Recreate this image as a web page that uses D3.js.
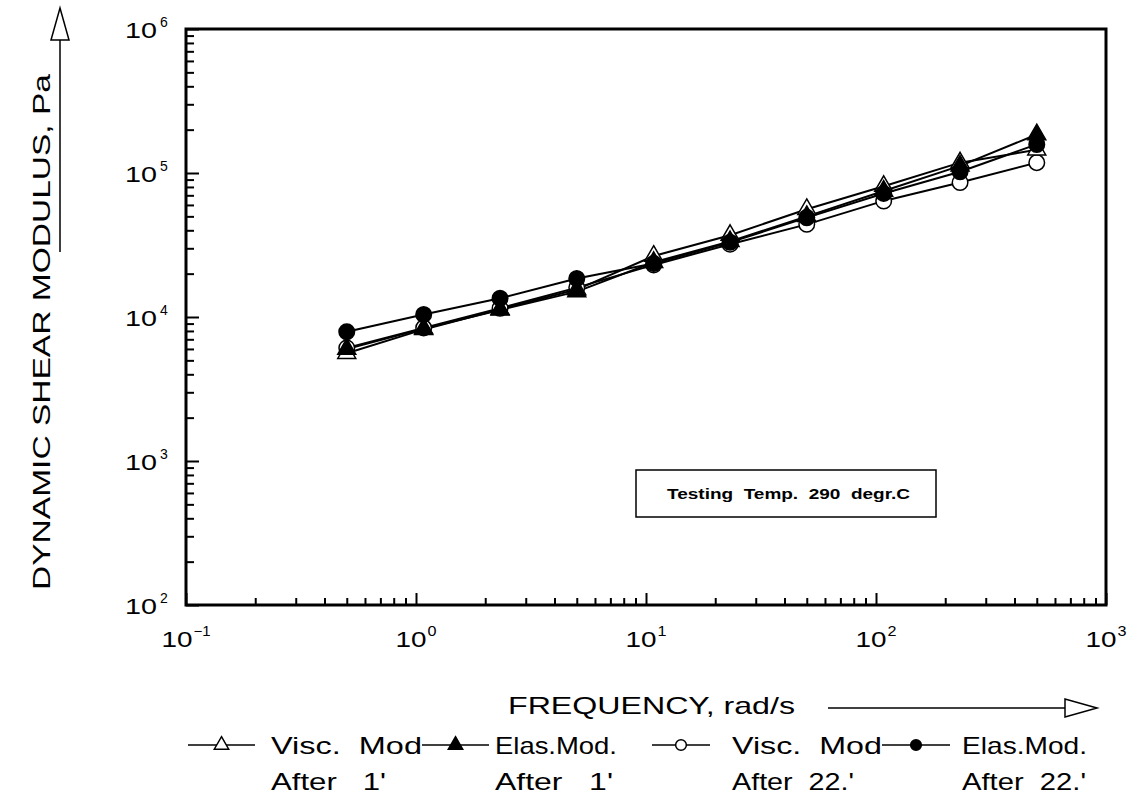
<!DOCTYPE html>
<html>
<head>
<meta charset="utf-8">
<script src="https://cdn.jsdelivr.net/npm/d3@7"></script>
<style>
  body { margin: 0; background: #fff; }
  text { font-family: "Liberation Sans", Arial, sans-serif; fill: #000; white-space: pre; }
</style>
</head>
<body>
<script>
// frequency, rad/s
const freq = [0.5, 1.08, 2.32, 5, 10.8, 23.2, 50, 108, 232, 500]
// modulus, Pa
const viscAfter1 = [5600, 8200, 11300, 15500, 26500, 37000, 56000, 81000, 118000, 145000]
const elasAfter1 = [6000, 8300, 11200, 15000, 24000, 33500, 50000, 75000, 112000, 185000]
const viscAfter22 = [6100, 8400, 11500, 16000, 23000, 32000, 44000, 64000, 86000, 118000]
const elasAfter22 = [7900, 10400, 13500, 18500, 23500, 33000, 49000, 72000, 102000, 158000]

const xDecades = [-1, 0, 1, 2, 3]
const yDecades = [2, 3, 4, 5, 6]

const legendItems = [
  { line1: "Visc.  Mod", line2: "After   1'", symbol: "triangle", filled: false },
  { line1: "Elas.Mod.", line2: "After   1'", symbol: "triangle", filled: true },
  { line1: "Visc.  Mod", line2: "After  22.'", symbol: "circle", filled: false },
  { line1: "Elas.Mod.", line2: "After  22.'", symbol: "circle", filled: true }
]

const dims = { w: 1143, h: 803, left: 186, right: 1106, top: 29, bottom: 605 }

const svg = d3.select("body").append("svg")
  .attr("width", dims.w)
  .attr("height", dims.h)

const x = d3.scaleLog().domain([0.1, 1000]).range([dims.left, dims.right])
const y = d3.scaleLog().domain([100, 1e6]).range([dims.bottom, dims.top])

// minor tick values 2..9 in each decade
const minorX = []
xDecades.slice(0, -1).forEach(d => { for (let k = 2; k < 10; k++) minorX.push(k * Math.pow(10, d)) })
const minorY = []
yDecades.slice(0, -1).forEach(d => { for (let k = 2; k < 10; k++) minorY.push(k * Math.pow(10, d)) })

// bottom axis ticks (pointing inward)
svg.append("g")
  .attr("transform", `translate(0, ${dims.bottom})`)
  .call(d3.axisBottom(x).tickValues(minorX).tickSize(-7).tickFormat(""))
  .call(g => g.select(".domain").remove())
svg.append("g")
  .attr("transform", `translate(0, ${dims.bottom})`)
  .call(d3.axisBottom(x).tickValues(xDecades.map(d => Math.pow(10, d))).tickSize(-12).tickFormat(""))
  .call(g => g.select(".domain").remove())

// left axis ticks
svg.append("g")
  .attr("transform", `translate(${dims.left}, 0)`)
  .call(d3.axisLeft(y).tickValues(minorY).tickSize(-8).tickFormat(""))
  .call(g => g.select(".domain").remove())
svg.append("g")
  .attr("transform", `translate(${dims.left}, 0)`)
  .call(d3.axisLeft(y).tickValues(yDecades.map(d => Math.pow(10, d))).tickSize(-13).tickFormat(""))
  .call(g => g.select(".domain").remove())

svg.selectAll(".tick line").attr("stroke", "#000").attr("stroke-width", 2)

// frame
svg.append("rect")
  .attr("x", dims.left).attr("y", dims.top)
  .attr("width", dims.right - dims.left).attr("height", dims.bottom - dims.top)
  .attr("fill", "none").attr("stroke", "#000").attr("stroke-width", 3)

// x tick labels
xDecades.forEach(d => {
  const cx = x(Math.pow(10, d))
  const expW = d < 0 ? 18 : 10
  const baseW = 31
  const total = baseW + expW
  const x0 = cx - total / 2
  svg.append("text")
    .attr("x", x0).attr("y", 647)
    .attr("font-size", 22)
    .attr("textLength", baseW).attr("lengthAdjust", "spacingAndGlyphs")
    .text("10")
  svg.append("text")
    .attr("x", x0 + baseW + 1).attr("y", 636)
    .attr("font-size", 14)
    .attr("textLength", expW - 1).attr("lengthAdjust", "spacingAndGlyphs")
    .text(d < 0 ? "\u2212" + Math.abs(d) : d)
})

// y tick labels
yDecades.forEach(d => {
  const cy = y(Math.pow(10, d))
  svg.append("text")
    .attr("x", 125).attr("y", cy + 9)
    .attr("font-size", 22)
    .attr("textLength", 32).attr("lengthAdjust", "spacingAndGlyphs")
    .text("10")
  svg.append("text")
    .attr("x", 160).attr("y", cy - 2)
    .attr("font-size", 14)
    .text(d)
})

// y axis title and arrow
svg.append("text")
  .attr("transform", "translate(50, 332) rotate(-90)")
  .attr("text-anchor", "middle")
  .attr("font-size", 23)
  .attr("textLength", 516).attr("lengthAdjust", "spacingAndGlyphs")
  .text("DYNAMIC SHEAR MODULUS, Pa")
svg.append("line")
  .attr("x1", 60).attr("x2", 60).attr("y1", 40).attr("y2", 252)
  .attr("stroke", "#000").attr("stroke-width", 1.5)
svg.append("path")
  .attr("d", "M60,8 L69,40 L51,40 Z")
  .attr("fill", "#fff").attr("stroke", "#000").attr("stroke-width", 1.5)

// x axis title and arrow
svg.append("text")
  .attr("x", 508).attr("y", 714)
  .attr("font-size", 24)
  .attr("textLength", 287).attr("lengthAdjust", "spacingAndGlyphs")
  .text("FREQUENCY, rad/s")
svg.append("line")
  .attr("x1", 828).attr("x2", 1065).attr("y1", 708).attr("y2", 708)
  .attr("stroke", "#000").attr("stroke-width", 1.5)
svg.append("path")
  .attr("d", "M1097,708 L1065,699 L1065,717 Z")
  .attr("fill", "#fff").attr("stroke", "#000").attr("stroke-width", 1.5)

// annotation box
svg.append("rect")
  .attr("x", 636).attr("y", 470).attr("width", 300).attr("height", 47)
  .attr("fill", "#fff").attr("stroke", "#000").attr("stroke-width", 1.5)
svg.append("text")
  .attr("x", 667).attr("y", 499)
  .attr("font-size", 15).attr("font-weight", "bold")
  .attr("textLength", 243).attr("lengthAdjust", "spacingAndGlyphs")
  .text("Testing  Temp.  290  degr.C")

// data
const series = [
  { values: viscAfter22, symbol: d3.symbolCircle, size: 190, filled: false },
  { values: viscAfter1, symbol: d3.symbolTriangle, size: 140, filled: false },
  { values: elasAfter22, symbol: d3.symbolCircle, size: 190, filled: true },
  { values: elasAfter1, symbol: d3.symbolTriangle, size: 140, filled: true }
]

const line = d3.line().x(d => x(d[0])).y(d => y(d[1]))

series.forEach(s => {
  svg.append("path")
    .datum(freq.map((f, i) => [f, s.values[i]]))
    .attr("d", line)
    .attr("fill", "none").attr("stroke", "#000").attr("stroke-width", 2)
})
series.forEach(s => {
  svg.append("g").selectAll("path")
    .data(freq.map((f, i) => [f, s.values[i]]))
    .enter().append("path")
    .attr("transform", d => `translate(${x(d[0])}, ${y(d[1])})`)
    .attr("d", d3.symbol().type(s.symbol).size(s.size))
    .attr("fill", s.filled ? "#000" : "#fff")
    .attr("stroke", "#000").attr("stroke-width", 1.5)
})

// legend
const legendPos = [
  { lx1: 188, lx2: 255, tx: 271, w1: 151, w2: 115 },
  { lx1: 422, lx2: 489, tx: 495, w1: 122, w2: 118 },
  { lx1: 652, lx2: 710, tx: 732, w1: 150, w2: 122 },
  { lx1: 882, lx2: 950, tx: 962, w1: 125, w2: 124 }
]
legendItems.forEach((it, i) => {
  const p = legendPos[i]
  const g = svg.append("g")
  g.append("line")
    .attr("x1", p.lx1).attr("x2", p.lx2).attr("y1", 745).attr("y2", 745)
    .attr("stroke", "#000").attr("stroke-width", 1.5)
  g.append("path")
    .attr("transform", `translate(${(p.lx1 + p.lx2) / 2}, 745)`)
    .attr("d", d3.symbol().type(it.symbol === "circle" ? d3.symbolCircle : d3.symbolTriangle).size(90))
    .attr("fill", it.filled ? "#000" : "#fff")
    .attr("stroke", "#000").attr("stroke-width", 1.5)
  g.append("text")
    .attr("x", p.tx).attr("y", 754)
    .attr("font-size", 24)
    .attr("textLength", p.w1).attr("lengthAdjust", "spacingAndGlyphs")
    .text(it.line1)
  g.append("text")
    .attr("x", p.tx).attr("y", 790)
    .attr("font-size", 24)
    .attr("textLength", p.w2).attr("lengthAdjust", "spacingAndGlyphs")
    .text(it.line2)
})
</script>
</body>
</html>
